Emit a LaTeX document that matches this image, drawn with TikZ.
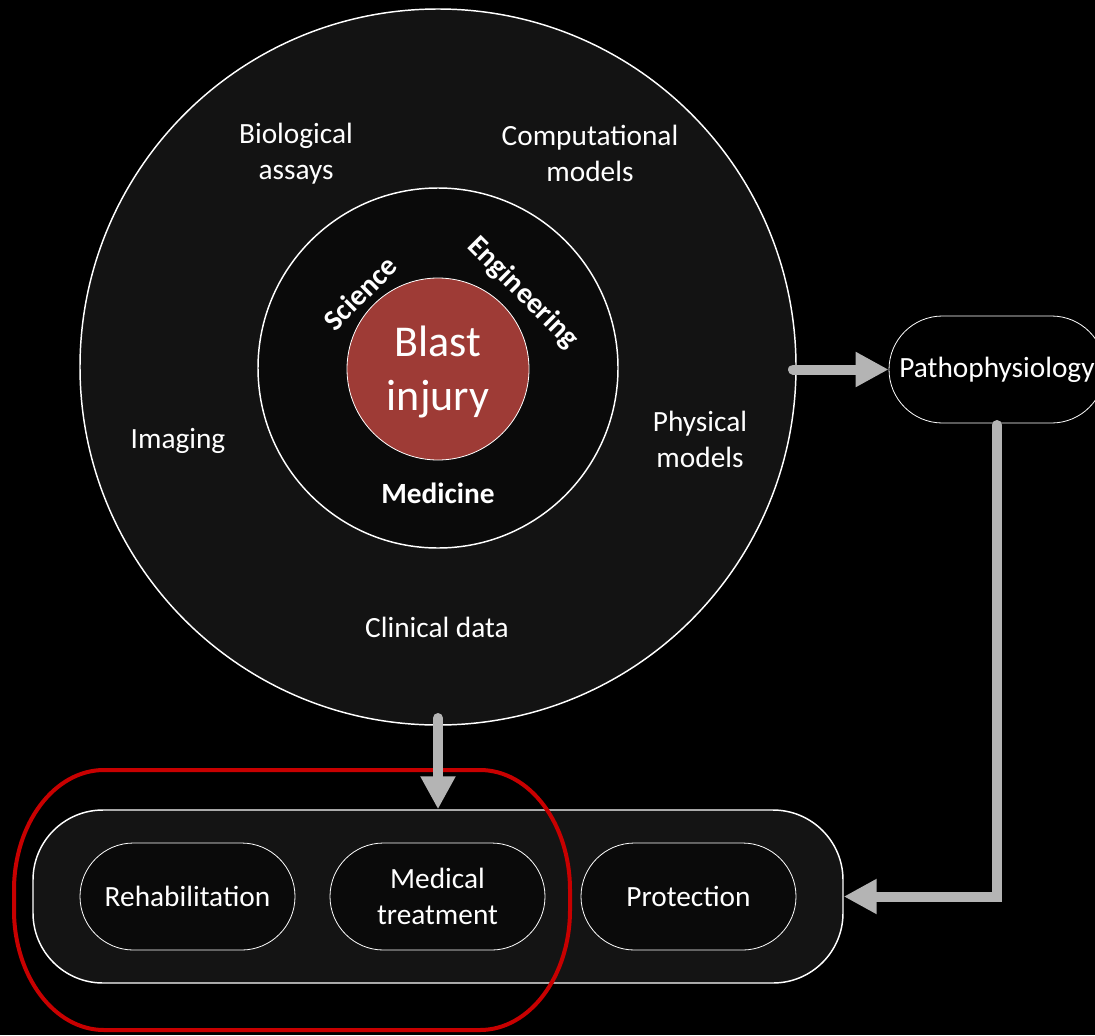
\documentclass[tikz,border=0pt]{standalone}
\usepackage{fontspec}
\setmainfont{Carlito}
\usetikzlibrary{arrows.meta,shapes.misc}

\definecolor{blastred}{RGB}{158,59,54}
\definecolor{flowgray}{RGB}{180,180,180}
\definecolor{ringfill}{RGB}{19,19,19}
\definecolor{corefill}{RGB}{10,10,10}
\definecolor{boxfill}{RGB}{20,20,20}
\definecolor{pillfill}{RGB}{10,10,10}
\definecolor{framered}{RGB}{200,0,0}

\tikzset{
  lbl/.style={text=white, font=\fontsize{22}{27}\selectfont, align=center, inner sep=0pt},
  boldlbl/.style={lbl, font=\fontsize{22}{27}\selectfont\bfseries},
  pill/.style={rounded rectangle, draw=white, line width=0.6pt, fill=pillfill, minimum width=161.25pt, minimum height=80.25pt, inner sep=0pt, text=white, font=\fontsize{22}{27}\selectfont, align=center},
  flow/.style={draw=flowgray, line width=7.5pt, line cap=round, -{Triangle[length=24.75pt, width=24.75pt]}}
}

\begin{document}
\begin{tikzpicture}[x=0.75pt,y=0.75pt,yscale=-1,xscale=1]
%set diagram left start at 0, and has height of 1035
\fill[black] (0,0) rectangle (1095,1035);
\useasboundingbox (0,0) rectangle (1095,1035);

%Shape: Circle [id:outer]
\node (outer) [circle, draw=white, line width=1.1pt, fill=ringfill, minimum size=537pt, inner sep=0pt] at (438,367) {};
%Shape: Circle [id:mid]
\node (mid) [circle, draw=white, line width=1.1pt, fill=corefill, minimum size=270pt, inner sep=0pt] at (438,368) {};
%Shape: Circle [id:core]
\node (core) [circle, draw=white, line width=0.6pt, fill=blastred, minimum size=136.5pt, inner sep=0pt] at (438,369) {};
% Text Node
\node (blast) [lbl, font=\fontsize{33}{40.5}\selectfont] at (438,371.5) {Blast\\injury};

% Text Node
\node (bio) [lbl] at (296,154) {Biological\\assays};
% Text Node
\node (comp) [lbl] at (590,153) {Computational\\models};
% Text Node
\node (imag) [lbl] at (178,441) {Imaging};
% Text Node
\node (phys) [lbl] at (700,439) {Physical\\models};
% Text Node
\node (clin) [lbl] at (437,627) {Clinical data};
% Text Node
\node (sci) [boldlbl, rotate=45] at (360,293) {Science};
% Text Node
\node (eng) [boldlbl, rotate=-45] at (523,293) {Engineering};
% Text Node
\node (med) [boldlbl] at (438,493) {Medicine};

%Shape: Rounded Rectangle [id:patho]
\node (patho) [rounded rectangle, draw=white, line width=0.6pt, fill=black, minimum width=162pt, minimum height=80.25pt, inner sep=0pt, lbl] at (997,369.5) {Pathophysiology};

%Shape: Rounded Rectangle [id:care]
\node (care) [rectangle, rounded corners=52.5pt, draw=white, line width=1.1pt, fill=boxfill, minimum width=607.5pt, minimum height=129.75pt, inner sep=0pt] at (438,896.5) {};
%Shape: Rounded Rectangle [id:rehab]
\node (rehab) [pill] at (187.5,896.5) {Rehabilitation};
%Shape: Rounded Rectangle [id:treat]
\node (treat) [pill] at (437.5,896.5) {Medical\\treatment};
%Shape: Rounded Rectangle [id:prot]
\node (prot) [pill] at (688.5,896.5) {Protection};

%Shape: Rounded Frame [id:focus]
\draw [draw=framered, line width=3pt] (104,770) -- (480,770)
  arc [start angle=-90, end angle=0, x radius=90, y radius=120] -- (570,910)
  arc [start angle=0, end angle=90, x radius=90, y radius=120] -- (104,1030)
  arc [start angle=90, end angle=180, x radius=90, y radius=120] -- (14,890)
  arc [start angle=180, end angle=270, x radius=90, y radius=120] -- cycle ;

%Straight Lines [id:toPatho]
\coordinate (rimeast) at (793,369.5);
\draw[flow] (rimeast) -- (patho.west);
%Straight Lines [id:toCare]
\coordinate (rimsouth) at (438,718);
\draw[flow] (rimsouth) -- (care.north);
%Straight Lines [id:back]
\coordinate (drop) at (997,425);
\draw[flow] (drop) |- (care.east);

\end{tikzpicture}
\end{document}
